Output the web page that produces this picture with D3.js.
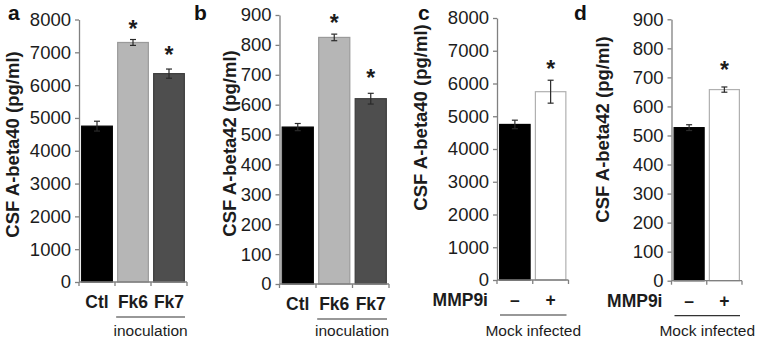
<!DOCTYPE html>
<html>
<head>
<meta charset="utf-8">
<script src="https://cdn.jsdelivr.net/npm/d3@7"></script>
<style>
  html, body { margin: 0; padding: 0; background: #fff; }
  svg { display: block; }
</style>
</head>
<body>
<div id="chart"></div>
<script>
// values
const panelLetters = ["a", "b", "c", "d"];
const yTitles = ["CSF A-beta40 (pg/ml)", "CSF A-beta42 (pg/ml)", "CSF A-beta40 (pg/ml)", "CSF A-beta42 (pg/ml)"];

const inoculationCategories = ["Ctl", "Fk6", "Fk7"];
const mmpCategories = ["\u2013", "+"];

const aValues = [4750, 7300, 6350];
const aErrors = [150, 90, 140];
const aStars = [null, 7480, 6670];

const bValues = [525, 825, 620];
const bErrors = [12, 11, 18];
const bStars = [null, 848, 663];

const cValues = [4750, 5750];
const cErrors = [130, 350];
const cStars = [null, 6210];

const dValues = [527, 658];
const dErrors = [10, 9];
const dStars = [null, 697];

const beta40Ticks = [0, 1000, 2000, 3000, 4000, 5000, 6000, 7000, 8000];
const beta42Ticks = [0, 100, 200, 300, 400, 500, 600, 700, 800, 900];

const groupLabels = ["inoculation", "inoculation", "Mock infected", "Mock infected"];
const mmpAxisLabel = "MMP9i";

const barFill = { "Ctl": "#000000", "Fk6": "#b6b6b6", "Fk7": "#4e4e4e", "\u2013": "#000000", "+": "#ffffff" };
const barStroke = { "Ctl": "#000000", "Fk6": "#9a9a9a", "Fk7": "#3c3c3c", "\u2013": "#000000", "+": "#b0b0b0" };

const fontFamily = "'Liberation Sans', Arial, Helvetica, sans-serif";
const textColor = "#1c1c1c";
const axisColor = "#808080";

const width = 757, height = 340;

const svg = d3.select("#chart").append("svg")
    .attr("width", width)
    .attr("height", height)
    .style("font-family", fontFamily);

function drawPanel(p) {
    const x = d3.scaleBand()
        .domain(p.categories)
        .range([p.left, p.right])
        .paddingInner(0.12)
        .paddingOuter(0.06);

    const y = d3.scaleLinear()
        .domain([0, d3.max(p.ticks)])
        .range([p.bottom, p.top]);

    const g = svg.append("g");

    // y axis
    g.append("g")
        .attr("transform", `translate(${p.left},0)`)
        .call(d3.axisLeft(y).tickValues(p.ticks).tickFormat(d3.format("d"))
            .tickSize(4).tickPadding(4).tickSizeOuter(0))
        .call(g => g.select(".domain").attr("stroke", axisColor).attr("stroke-width", 1.3))
        .call(g => g.selectAll(".tick line").attr("stroke", axisColor).attr("stroke-width", 1.3))
        .call(g => g.selectAll("text")
            .attr("fill", textColor)
            .style("font-size", "18.5px")
            .style("font-family", fontFamily));

    // bars
    g.selectAll("rect.bar")
        .data(p.categories.map((c, i) => ({ c, v: p.values[i] })))
        .enter()
        .append("rect")
        .attr("class", "bar")
        .attr("x", d => x(d.c) + 0.5)
        .attr("y", d => y(d.v))
        .attr("width", x.bandwidth() - 1)
        .attr("height", d => y(0) - y(d.v))
        .attr("fill", d => barFill[d.c])
        .attr("stroke", d => barStroke[d.c])
        .attr("stroke-width", 1.2);

    // x axis line with ticks at band edges
    const edges = p.categories.map(c => x(c) - x.step() * x.paddingInner() / 2);
    edges[0] = p.left;
    edges.push(p.right);
    g.append("line")
        .attr("x1", p.left).attr("x2", p.right)
        .attr("y1", p.bottom).attr("y2", p.bottom)
        .attr("stroke", axisColor).attr("stroke-width", 1.3);
    g.selectAll("line.xtick")
        .data(edges)
        .enter()
        .append("line")
        .attr("class", "xtick")
        .attr("x1", d => d).attr("x2", d => d)
        .attr("y1", p.bottom).attr("y2", p.bottom + 4)
        .attr("stroke", axisColor).attr("stroke-width", 1.3);

    // error bars
    const eb = g.selectAll("g.err")
        .data(p.categories.map((c, i) => ({ c, v: p.values[i], e: p.errors[i] })))
        .enter()
        .append("g")
        .attr("class", "err")
        .attr("stroke", "#2a2a2a")
        .attr("stroke-width", 1.2);
    eb.append("line")
        .attr("x1", d => x(d.c) + x.bandwidth() / 2)
        .attr("x2", d => x(d.c) + x.bandwidth() / 2)
        .attr("y1", d => y(d.v - d.e))
        .attr("y2", d => y(d.v + d.e));
    eb.append("line")
        .attr("x1", d => x(d.c) + x.bandwidth() / 2 - 3)
        .attr("x2", d => x(d.c) + x.bandwidth() / 2 + 3)
        .attr("y1", d => y(d.v + d.e))
        .attr("y2", d => y(d.v + d.e));
    eb.append("line")
        .attr("x1", d => x(d.c) + x.bandwidth() / 2 - 3)
        .attr("x2", d => x(d.c) + x.bandwidth() / 2 + 3)
        .attr("y1", d => y(d.v - d.e))
        .attr("y2", d => y(d.v - d.e));

    // significance stars
    g.selectAll("text.star")
        .data(p.categories.map((c, i) => ({ c, s: p.stars[i] })).filter(d => d.s != null))
        .enter()
        .append("text")
        .attr("class", "star")
        .attr("x", d => x(d.c) + x.bandwidth() / 2)
        .attr("y", d => y(d.s))
        .attr("text-anchor", "middle")
        .attr("fill", textColor)
        .style("font-size", "23px")
        .style("font-weight", "bold")
        .text("*");

    // category labels
    g.selectAll("text.cat")
        .data(p.categories)
        .enter()
        .append("text")
        .attr("class", "cat")
        .attr("x", d => x(d) + x.bandwidth() / 2)
        .attr("y", p.bottom + 26)
        .attr("text-anchor", "middle")
        .attr("fill", textColor)
        .style("font-size", "17.5px")
        .style("font-weight", "bold")
        .text(d => d);

    if (p.axisLabel) {
        g.append("text")
            .attr("x", p.left - 9)
            .attr("y", p.bottom + 26)
            .attr("text-anchor", "end")
            .attr("fill", textColor)
            .style("font-size", "17.5px")
            .style("font-weight", "bold")
            .text(p.axisLabel);
    }

    // group underline + label
    const ux1 = p.axisLabel ? p.left + 3 : x(p.categories[1]) - 1;
    const ux2 = p.right - 2;
    g.append("line")
        .attr("x1", ux1).attr("x2", ux2)
        .attr("y1", p.bottom + 35).attr("y2", p.bottom + 35)
        .attr("stroke", "#333").attr("stroke-width", 1.2);
    g.append("text")
        .attr("x", (ux1 + ux2) / 2)
        .attr("y", 336)
        .attr("text-anchor", "middle")
        .attr("fill", textColor)
        .style("font-size", "15.5px")
        .text(p.group);

    // y title
    g.append("text")
        .attr("transform", `translate(${p.titleX},${p.titleY}) rotate(-90)`)
        .attr("dy", "0.36em")
        .attr("text-anchor", "middle")
        .attr("fill", textColor)
        .style("font-size", "18.5px")
        .style("font-weight", "bold")
        .text(p.title);

    // panel letter
    svg.append("text")
        .attr("x", p.letterX)
        .attr("y", 20)
        .attr("fill", "#111")
        .style("font-size", "21px")
        .style("font-weight", "bold")
        .text(p.letter);
}

drawPanel({
    letter: panelLetters[0], title: yTitles[0], group: groupLabels[0],
    categories: inoculationCategories, values: aValues, errors: aErrors, stars: aStars,
    ticks: beta40Ticks,
    left: 79, right: 187, top: 19.5, bottom: 282,
    titleX: 12, titleY: 144.5, letterX: 8
});

drawPanel({
    letter: panelLetters[1], title: yTitles[1], group: groupLabels[1],
    categories: inoculationCategories, values: bValues, errors: bErrors, stars: bStars,
    ticks: beta42Ticks,
    left: 279.5, right: 389, top: 15, bottom: 284,
    titleX: 229, titleY: 143.5, letterX: 194
});

drawPanel({
    letter: panelLetters[2], title: yTitles[2], group: groupLabels[2], axisLabel: mmpAxisLabel,
    categories: mmpCategories, values: cValues, errors: cErrors, stars: cStars,
    ticks: beta40Ticks,
    left: 497, right: 568.5, top: 18, bottom: 280,
    titleX: 420, titleY: 117.5, letterX: 418
});

drawPanel({
    letter: panelLetters[3], title: yTitles[3], group: groupLabels[3], axisLabel: mmpAxisLabel,
    categories: mmpCategories, values: dValues, errors: dErrors, stars: dStars,
    ticks: beta42Ticks,
    left: 671.5, right: 742, top: 19.3, bottom: 280.7,
    titleX: 602, titleY: 129.5, letterX: 574
});
</script>
</body>
</html>
